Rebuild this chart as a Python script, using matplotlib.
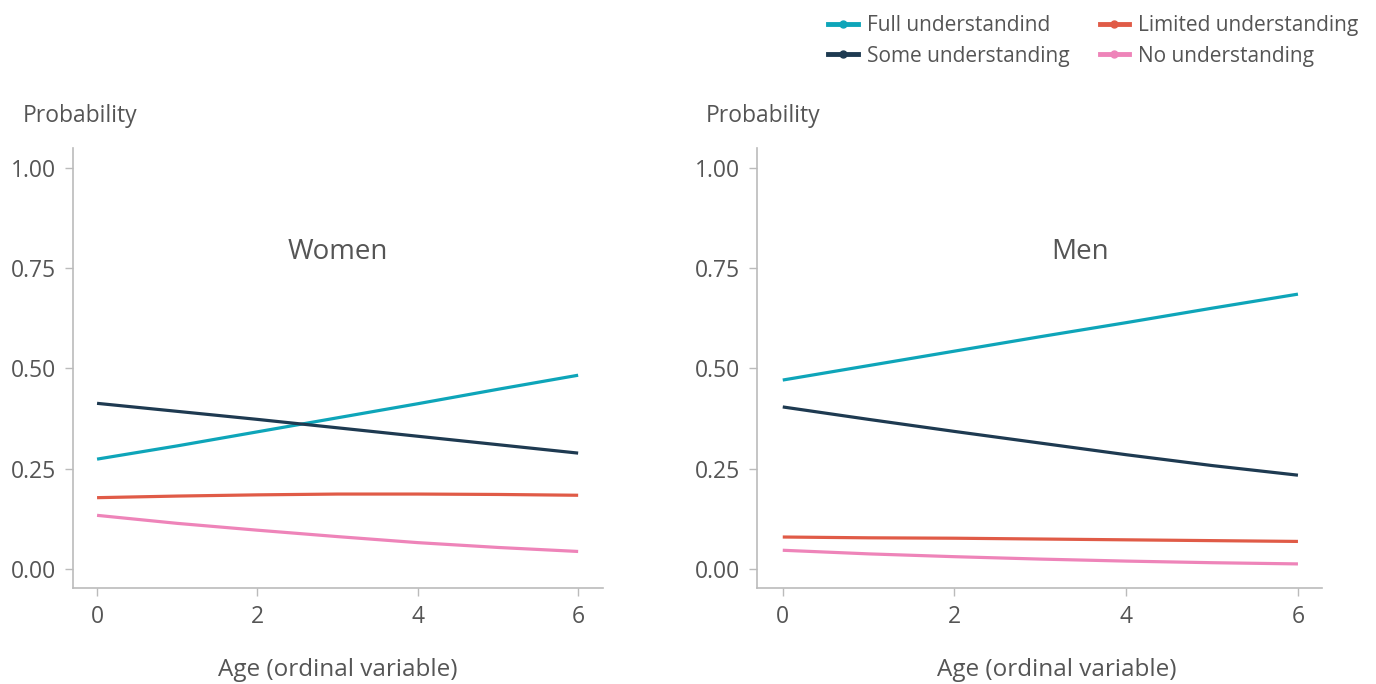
import matplotlib
matplotlib.use("Agg")
import matplotlib.pyplot as plt
from matplotlib.lines import Line2D

plt.rcParams['font.family'] = ['Open Sans', 'DejaVu Sans']

age = [0, 1, 2, 3, 4, 5, 6]
series_names = ["Full understandind", "Some understanding", "Limited understanding", "No understanding"]
colors = ["#0ea5b9", "#1e3a51", "#e05b47", "#ee84b9"]

women_full = [0.274, 0.307, 0.342, 0.377, 0.412, 0.448, 0.483]
women_some = [0.413, 0.393, 0.373, 0.352, 0.331, 0.310, 0.289]
women_limited = [0.178, 0.182, 0.185, 0.187, 0.187, 0.186, 0.184]
women_none = [0.134, 0.114, 0.097, 0.081, 0.066, 0.054, 0.044]

men_full = [0.471, 0.507, 0.543, 0.579, 0.614, 0.650, 0.685]
men_some = [0.404, 0.373, 0.343, 0.314, 0.285, 0.258, 0.234]
men_limited = [0.080, 0.078, 0.077, 0.075, 0.073, 0.071, 0.069]
men_none = [0.047, 0.038, 0.031, 0.025, 0.020, 0.016, 0.013]

panels = [
    ("Women", [women_full, women_some, women_limited, women_none], (3.0, 0.79)),
    ("Men", [men_full, men_some, men_limited, men_none], (3.46, 0.79)),
]

yticks = [0.0, 0.25, 0.5, 0.75, 1.0]
ytick_labels = ["0.00", "0.25", "0.50", "0.75", "1.00"]
xticks = [0, 2, 4, 6]

fig = plt.figure(figsize=(13.76, 6.84), dpi=100)
text_color = "#555555"
spine_color = "#bbbbbb"

axes_rects = [
    [73/1376, 1-588/684, (603-73)/1376, (588-148)/684],
    [757/1376, 1-588/684, (1322-757)/1376, (588-148)/684],
]
xlims = [(-0.30, 6.31), (-0.30, 6.28)]
xlabel_x = [338/1376, 1057/1376]
prob_x = [23/1376, 706/1376]

for (title, data, tpos), rect, xl, lx, px in zip(panels, axes_rects, xlims, xlabel_x, prob_x):
    ax = fig.add_axes(rect)
    for vals, c in zip(data, colors):
        ax.plot(age, vals, color=c, lw=2.3, solid_capstyle='butt')
    ax.set_xlim(*xl)
    ax.set_ylim(-0.047, 1.049)
    ax.set_yticks(yticks)
    ax.set_yticklabels(ytick_labels)
    ax.set_xticks(xticks)
    for s in ["top", "right"]:
        ax.spines[s].set_visible(False)
    for s in ["left", "bottom"]:
        ax.spines[s].set_color(spine_color)
        ax.spines[s].set_linewidth(1.2)
    ax.tick_params(axis='both', colors=spine_color, labelcolor=text_color,
                   labelsize=16.5, length=6, width=1.0, pad=6)
    ax.text(tpos[0], tpos[1], title, ha='center', va='center', fontsize=20, color=text_color)
    fig.text(px, 1-116/684, "Probability", ha='left', va='center',
             fontsize=16.5, color=text_color)
    fig.text(lx, 1-670/684, "Age (ordinal variable)", ha='center', va='center',
             fontsize=17.5, color=text_color)

handles = [Line2D([0], [0], color=c, lw=3.5, marker='o', markersize=5) for c in colors]
fig.legend(handles, series_names, ncol=2, loc='upper right', bbox_to_anchor=(1.001, 1.005),
           frameon=False, fontsize=15, labelcolor=text_color, handlelength=1.4,
           columnspacing=1.45, handletextpad=0.45, labelspacing=0.45)

fig.savefig("out.png", dpi=100)
